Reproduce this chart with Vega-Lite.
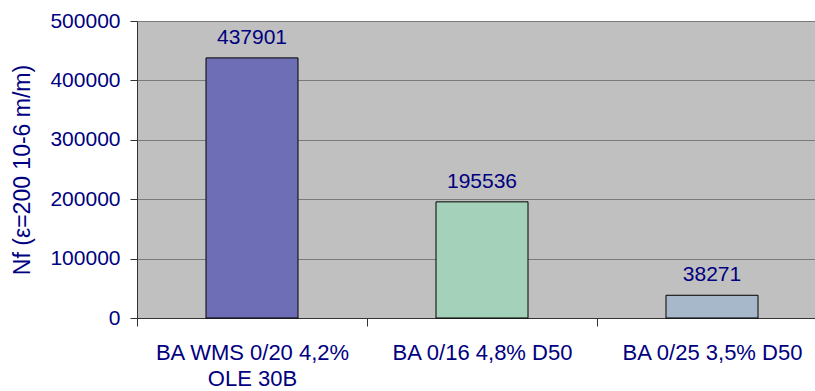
{
  "$schema": "https://vega.github.io/schema/vega-lite/v6.json",
  "autosize": {"type": "none"},
  "padding": {"left": 137, "top": 21, "right": 0, "bottom": 73},
  "width": 690,
  "height": 297,
  "background": "white",
  "config": {
    "view": {"fill": "#C0C0C0", "stroke": null},
    "font": "Liberation Sans"
  },
  "data": {
    "values": [
      {"mix": "BA WMS 0/20 4,2%|OLE 30B", "nf": 437901, "pattern": "checker"},
      {"mix": "BA 0/16 4,8% D50", "nf": 195536, "pattern": "diamond"},
      {"mix": "BA 0/25 3,5% D50", "nf": 38271, "pattern": "dots"}
    ]
  },
  "encoding": {
    "x": {
      "field": "mix",
      "type": "nominal",
      "sort": null,
      "scale": {"paddingInner": 0, "paddingOuter": 0},
      "axis": {
        "title": null,
        "labelAngle": 0,
        "labelExpr": "split(datum.label, '|')",
        "labelFontSize": 22,
        "labelLimit": 400,
        "labelColor": "#000080",
        "labelLineHeight": 26,
        "labelBaseline": "top",
        "labelPadding": 16,
        "tickBand": "extent",
        "tickSize": 8,
        "tickColor": "#333333",
        "domainColor": "#333333",
        "grid": false
      }
    },
    "y": {
      "field": "nf",
      "type": "quantitative",
      "scale": {"domain": [0, 500000], "nice": false},
      "axis": {
        "title": "Nf (ε=200 10-6 m/m)",
        "titleFontSize": 23,
        "titleFontWeight": "normal",
        "titleColor": "#000080",
        "titlePadding": 15,
        "values": [0, 100000, 200000, 300000, 400000, 500000],
        "format": "d",
        "labelFontSize": 21,
        "labelColor": "#000080",
        "labelPadding": 10,
        "tickSize": 7,
        "tickColor": "#333333",
        "domainColor": "#333333",
        "grid": true,
        "gridColor": "#7a7a7a",
        "gridWidth": 1
      }
    }
  },
  "layer": [
    {
      "mark": {"type": "bar", "stroke": "black", "strokeWidth": 1, "width": {"band": 0.4}},
      "encoding": {
        "color": {
          "field": "pattern",
          "type": "nominal",
          "scale": {
            "domain": ["checker", "diamond", "dots"],
            "range": ["#6E6EB6", "#A3D1BA", "#A6B8C9"]
          },
          "legend": null
        }
      }
    },
    {
      "mark": {"type": "text", "baseline": "alphabetic", "dy": -14, "fontSize": 21, "color": "#000080"},
      "encoding": {
        "text": {"field": "nf", "type": "quantitative", "format": "d"}
      }
    }
  ]
}
